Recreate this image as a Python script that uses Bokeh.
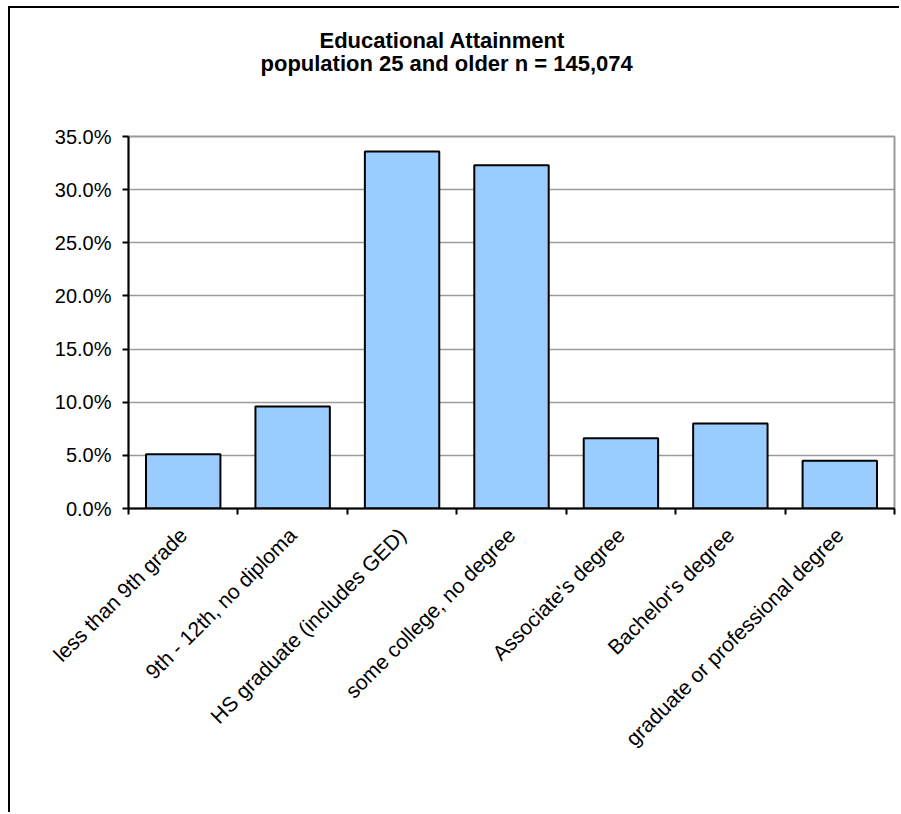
import math
from bokeh.plotting import figure
from bokeh.models import FixedTicker, PrintfTickFormatter, Title, Range1d
from bokeh.embed import file_html
from bokeh.resources import INLINE

categories = ["less than 9th grade", "9th - 12th, no diploma", "HS graduate (includes GED)",
              "some college, no degree", "Associate's degree", "Bachelor's degree",
              "graduate or professional degree"]
percent = [5.1, 9.6, 33.6, 32.3, 6.6, 8.0, 4.5]
y_ticks = [0, 5, 10, 15, 20, 25, 30, 35]
title_lines = ["Educational Attainment", "population 25 and older n = 145,074"]

FONT = "Liberation Sans"
n = len(categories)
xs = [i + 0.5 for i in range(n)]

p = figure(width=891, height=806, output_backend="svg", toolbar_location=None,
           x_range=Range1d(0, n), y_range=Range1d(0, 35),
           min_border_left=118, min_border_right=7, min_border_top=128, min_border_bottom=306)
p.styles = {"margin-left": "8px", "margin-top": "6px",
            "border-left": "2px solid black", "border-top": "2px solid black"}

p.vbar(x=xs, top=percent, width=0.68, fill_color="#99CCFF", line_color="black", line_width=2)

# y axis
p.yaxis.ticker = FixedTicker(ticks=y_ticks)
p.yaxis.formatter = PrintfTickFormatter(format="%.1f%%")
p.yaxis.axis_line_width = 2
p.yaxis.major_tick_line_width = 2
p.yaxis.major_tick_in = 0
p.yaxis.major_tick_out = 6
p.yaxis.minor_tick_line_color = None
p.yaxis.major_label_text_font = FONT
p.yaxis.major_label_text_font_size = "20px"
p.yaxis.major_label_text_color = "black"
p.yaxis.major_label_standoff = 11

# x axis: labels at centers, ticks at boundaries (minor ticks)
p.xaxis.ticker = FixedTicker(ticks=xs, minor_ticks=list(range(n + 1)))
p.xaxis.major_label_overrides = {x: c for x, c in zip(xs, categories)}
p.xaxis.major_label_orientation = math.pi / 4
p.xaxis.major_tick_line_color = None
p.xaxis.minor_tick_in = 0
p.xaxis.minor_tick_out = 6
p.xaxis.minor_tick_line_width = 2
p.xaxis.minor_tick_line_color = "black"
p.xaxis.axis_line_width = 2
p.xaxis.major_label_text_font = FONT
p.xaxis.major_label_text_font_size = "21px"
p.xaxis.major_label_text_color = "black"
p.xaxis.major_label_standoff = 17

p.xgrid.grid_line_color = None
p.ygrid.ticker = FixedTicker(ticks=y_ticks)
p.ygrid.grid_line_color = "#9a9a9a"
p.ygrid.grid_line_width = 1.5
p.outline_line_color = "#9a9a9a"
p.outline_line_width = 2

# titles: spacer nearest the frame, then line 2, then line 1
p.add_layout(Title(text=" ", text_font_size="10px", standoff=48), "above")
p.add_layout(Title(text=title_lines[1], text_font=FONT, text_font_size="22px",
                   text_font_style="bold", text_color="black", align="left",
                   offset=132, standoff=0), "above")
p.add_layout(Title(text=title_lines[0], text_font=FONT, text_font_size="22px",
                   text_font_style="bold", text_color="black", align="left",
                   offset=191, standoff=-8), "above")

open("out.html", "w").write(file_html(p, INLINE))
